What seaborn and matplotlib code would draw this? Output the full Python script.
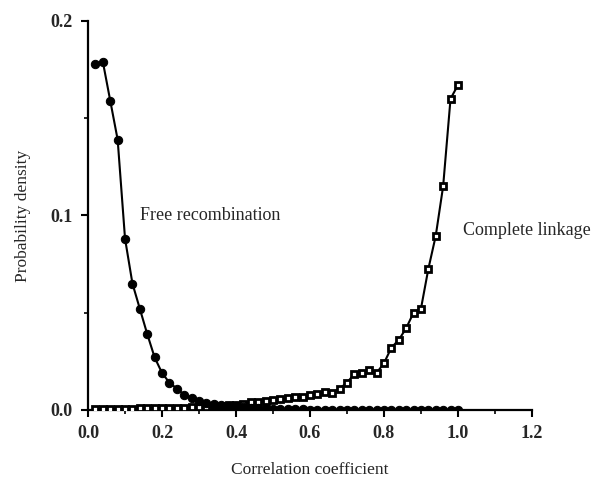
import numpy as np
import pandas as pd
import matplotlib
matplotlib.use("Agg")
import matplotlib.pyplot as plt
import seaborn as sns
from matplotlib.ticker import MultipleLocator

# correlation coefficient grid (0.02 .. 1.00)
r_values = [round(0.02 * i, 2) for i in range(1, 51)]

# free recombination density
free_recombination = [
    0.178, 0.179, 0.159, 0.139, 0.088, 0.065, 0.052, 0.039, 0.027, 0.019,
    0.014, 0.011, 0.0077, 0.006, 0.0045, 0.0035, 0.003, 0.0025, 0.002, 0.0018,
    0.0015, 0.0012, 0.001, 0.0008, 0.0006, 0.0005, 0.0004, 0.0003, 0.0003, 0.0002,
    0.0002, 0.0002, 0.0001, 0.0001, 0.0001, 0.0001, 0.0001, 0.0001, 0.0001, 0.0001,
    0.0001, 0.0001, 0.0001, 0.0001, 0.0001, 0.0001, 0.0001, 0.0001, 0.0001, 0.0001,
]

# complete linkage density
complete_linkage = [
    0.0005, 0.0005, 0.0006, 0.0006, 0.0007, 0.0007, 0.0008, 0.0008, 0.0009, 0.001,
    0.001, 0.0011, 0.0012, 0.0013, 0.0015, 0.0017, 0.0019, 0.0021, 0.0024, 0.0027,
    0.003, 0.004, 0.0042, 0.0045, 0.005, 0.0055, 0.006, 0.0065, 0.0068, 0.0077,
    0.0082, 0.0093, 0.0087, 0.011, 0.014, 0.0185, 0.019, 0.0205, 0.019, 0.024,
    0.032, 0.036, 0.042, 0.050, 0.052, 0.0725, 0.0895, 0.115, 0.160, 0.167,
]

x_ticks = [0.0, 0.2, 0.4, 0.6, 0.8, 1.0, 1.2]
y_ticks = [0.0, 0.1, 0.2]

df = pd.DataFrame({
    'r': r_values,
    'Free recombination': free_recombination,
    'Complete linkage': complete_linkage,
})

sns.set_theme(style="ticks")
plt.rcParams['font.family'] = ['Liberation Serif', 'DejaVu Serif']

fig = plt.figure(figsize=(5.91, 4.88), dpi=100)
ax = fig.add_axes([0.149, 0.160, 0.751, 0.797])

sns.lineplot(data=df, x='r', y='Complete linkage', ax=ax, color='black',
             linewidth=1.5, marker='s', markersize=5, markerfacecolor='white',
             markeredgecolor='black', markeredgewidth=2.0, zorder=3)
sns.lineplot(data=df, x='r', y='Free recombination', ax=ax, color='black',
             linewidth=1.5, marker='o', markersize=6, markerfacecolor='black',
             markeredgecolor='black', zorder=4)

ax.set_xlim(0, 1.2)
ax.set_ylim(0, 0.2)
ax.set_xticks(x_ticks)
ax.set_yticks(y_ticks)
ax.xaxis.set_minor_locator(MultipleLocator(0.1))
ax.yaxis.set_minor_locator(MultipleLocator(0.05))
ax.set_xticklabels([f"{v:.1f}" for v in x_ticks])
ax.set_yticklabels([f"{v:.1f}" for v in y_ticks])
ax.tick_params(axis='both', which='major', length=5, width=1.5, labelsize=13, pad=6, color='black')
ax.tick_params(axis='both', which='minor', length=3, width=1.2, color='black')
for lbl in ax.get_xticklabels() + ax.get_yticklabels():
    lbl.set_fontweight('bold')

sns.despine(ax=ax)
for side in ['left', 'bottom']:
    ax.spines[side].set_linewidth(1.6)
    ax.spines[side].set_color('black')

ax.set_xlabel('Correlation coefficient', fontsize=12.5, labelpad=14)
ax.set_ylabel('Probability density', fontsize=12.5, labelpad=14)

ax.text(0.14, 0.100, 'Free recombination', fontsize=13, va='center', ha='left')
ax.text(1.013, 0.0925, 'Complete linkage', fontsize=13, va='center', ha='left', clip_on=False)

fig.savefig('out.png', dpi=100)
